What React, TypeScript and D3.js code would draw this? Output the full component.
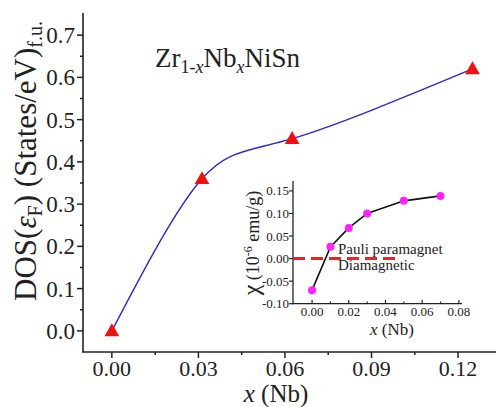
import React from "react";
import * as d3 from "d3";

const mainX = [0, 0.03125, 0.0625, 0.125];
const mainY = [0, 0.36, 0.455, 0.62];
const mainXTicks = [0, 0.03, 0.06, 0.09, 0.12];
const mainXMinor = [0.015, 0.045, 0.075, 0.105];
const mainYTicks = [0, 0.1, 0.2, 0.3, 0.4, 0.5, 0.6, 0.7];
const mainYMinor = [0.05, 0.15, 0.25, 0.35, 0.45, 0.55, 0.65];

const insetX = [0, 0.01, 0.02, 0.03, 0.05, 0.07];
const insetY = [-0.07, 0.026, 0.068, 0.1, 0.128, 0.139];
const insetXTicks = [0, 0.02, 0.04, 0.06, 0.08];
const insetXMinor = [0.01, 0.03, 0.05, 0.07];
const insetYTicks = [-0.1, -0.05, 0, 0.05, 0.1, 0.15];
const dashedX = [-0.0104, 0.046];

const FONT = "'Liberation Serif', 'Times New Roman', serif";
const AX = "#222";

export default function App() {
  const x = d3.scaleLinear().domain([-0.01, 0.1335]).range([83, 497]);
  const y = d3.scaleLinear().domain([-0.05, 0.75]).range([352, 14]);
  const ix = d3.scaleLinear().domain([-0.0104, 0.0817]).range([293, 462]);
  const iy = d3.scaleLinear().domain([-0.1, 0.172]).range([303.7, 181]);

  const pts = mainX.map((v, i) => [x(v), y(mainY[i])] as [number, number]);
  const mainLine = d3.line().curve(d3.curveNatural)(pts) || "";
  const tri = d3.symbol().type(d3.symbolTriangle).size(95)() || "";

  const ipts = insetX.map((v, i) => [ix(v), iy(insetY[i])] as [number, number]);
  const insetLine = d3.line()(ipts) || "";

  return (
    <svg width={496} height={407} style={{ position: "absolute", left: 0, top: 0, background: "#fff" }} fontFamily={FONT}>
      <rect width={496} height={407} fill="#fff" />
      {/* main axes */}
      <line x1={83} x2={83} y1={13} y2={352} stroke={AX} strokeWidth={1.6} />
      <line x1={82} x2={497} y1={352} y2={352} stroke={AX} strokeWidth={1.6} />
      {mainYTicks.map((t) => (
        <g key={"my" + t}>
          <line x1={77} x2={83} y1={y(t)} y2={y(t)} stroke={AX} strokeWidth={1.5} />
          <text x={75} y={y(t)} dy="0.35em" textAnchor="end" fontSize={23} fill="#222">
            {d3.format(".1f")(t)}
          </text>
        </g>
      ))}
      {mainYMinor.map((t) => (
        <line key={"mym" + t} x1={80} x2={83} y1={y(t)} y2={y(t)} stroke={AX} strokeWidth={1.5} />
      ))}
      {mainXTicks.map((t) => (
        <g key={"mx" + t}>
          <line x1={x(t)} x2={x(t)} y1={352} y2={358} stroke={AX} strokeWidth={1.5} />
          <text x={x(t)} y={376} textAnchor="middle" fontSize={22} fill="#222">
            {d3.format(".2f")(t)}
          </text>
        </g>
      ))}
      {mainXMinor.map((t) => (
        <line key={"mxm" + t} x1={x(t)} x2={x(t)} y1={352} y2={355} stroke={AX} strokeWidth={1.5} />
      ))}
      <text x={276} y={402} textAnchor="middle" fontSize={25} fill="#222">
        <tspan fontStyle="italic">x</tspan> (Nb)
      </text>
      <text transform="translate(36,161) rotate(-90)" textAnchor="middle" fontSize={31} fill="#222">
        DOS(<tspan fontStyle="italic">ε</tspan>
        <tspan fontSize={20} dy={6}>F</tspan>
        <tspan dy={-6}>) (States/eV)</tspan>
        <tspan fontSize={20} dy={6}>f.u.</tspan>
      </text>
      <text x={155} y={67} fontSize={27} fill="#222">
        Zr<tspan fontSize={18} dy={6}>1-</tspan>
        <tspan fontSize={18} fontStyle="italic">x</tspan>
        <tspan dy={-6}>Nb</tspan>
        <tspan fontSize={18} fontStyle="italic" dy={6}>x</tspan>
        <tspan dy={-6}>NiSn</tspan>
      </text>
      <path d={mainLine} fill="none" stroke="#2a2ac8" strokeWidth={1.4} />
      {pts.map((p, i) => (
        <path key={"t" + i} d={tri} transform={`translate(${p[0]},${p[1] + 1})`} fill="#ee1111" />
      ))}

      {/* inset */}
      <line x1={293} x2={293} y1={181} y2={303.7} stroke={AX} strokeWidth={1.3} />
      <line x1={292} x2={462} y1={303.7} y2={303.7} stroke={AX} strokeWidth={1.3} />
      {insetYTicks.map((t) => (
        <g key={"iy" + t}>
          <line x1={289} x2={293} y1={iy(t)} y2={iy(t)} stroke={AX} strokeWidth={1.2} />
          <text x={289} y={iy(t)} dy="0.35em" textAnchor="end" fontSize={13} fill="#222">
            {d3.format(".2f")(t).replace("−", "-")}
          </text>
        </g>
      ))}
      {insetXTicks.map((t) => (
        <g key={"ix" + t}>
          <line x1={ix(t)} x2={ix(t)} y1={303.7} y2={300} stroke={AX} strokeWidth={1.2} />
          <text x={ix(t)} y={316} textAnchor="middle" fontSize={13} fill="#222">
            {d3.format(".2f")(t)}
          </text>
        </g>
      ))}
      {insetXMinor.map((t) => (
        <line key={"ixm" + t} x1={ix(t)} x2={ix(t)} y1={303.7} y2={301.5} stroke={AX} strokeWidth={1.2} />
      ))}
      <text x={392} y={335} textAnchor="middle" fontSize={17} fill="#222">
        <tspan fontStyle="italic">x</tspan> (Nb)
      </text>
      <text transform="translate(259,243) rotate(-90)" textAnchor="middle" fontSize={18} fill="#222">
        <tspan fontSize={24}>χ</tspan> (10<tspan fontSize={12} dy={-7}>-6</tspan>
        <tspan dy={7}> emu/g)</tspan>
      </text>
      <line x1={ix(dashedX[0])} x2={ix(dashedX[1])} y1={iy(0)} y2={iy(0)} stroke="#e0282a" strokeWidth={3} strokeDasharray="12,6" />
      <path d={insetLine} fill="none" stroke="#111" strokeWidth={1.6} />
      {ipts.map((p, i) => (
        <circle key={"c" + i} cx={p[0]} cy={p[1]} r={4} fill="#ff22ff" />
      ))}
      <text x={338} y={254} fontSize={15} fill="#222">Pauli paramagnet</text>
      <text x={338} y={270} fontSize={15} fill="#222">Diamagnetic</text>
    </svg>
  );
}
